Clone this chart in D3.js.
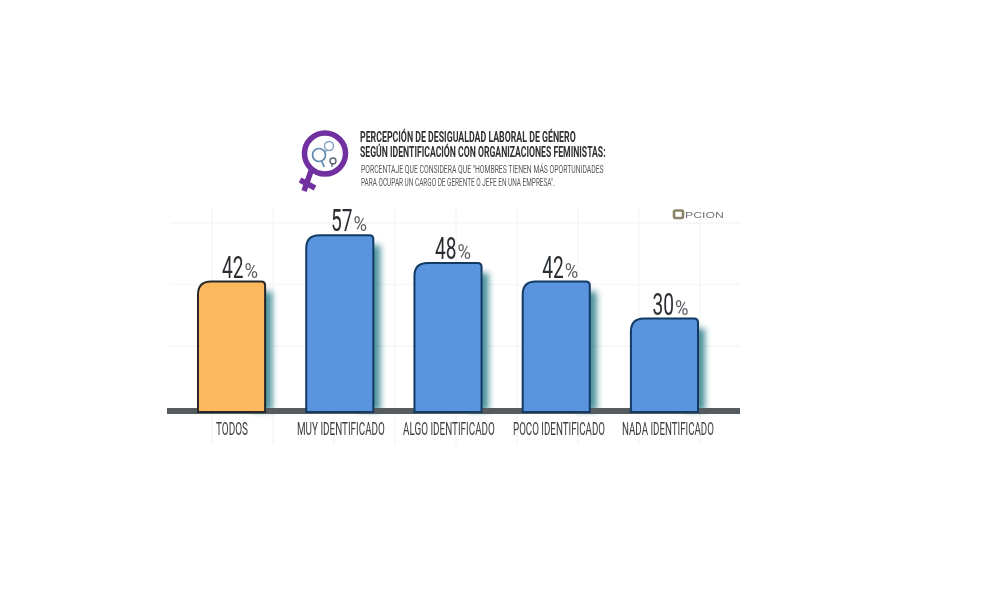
<!DOCTYPE html>
<html><head><meta charset="utf-8">
<script src="https://cdn.jsdelivr.net/npm/d3@7"></script>
<style>
html,body{margin:0;padding:0;background:#fff}
svg{display:block}
text{font-family:"Roboto",sans-serif}
</style></head><body>
<svg id="c" width="1000" height="592"></svg>
<script>
const categories = ["TODOS","MUY IDENTIFICADO","ALGO IDENTIFICADO","POCO IDENTIFICADO","NADA IDENTIFICADO"];
const values = [42,57,48,42,30];
const gridRows = [21,41,61];
const gridCols = [0,1,2,3,4,5,6,7,8];
const titleLines = ["PERCEPCIÓN DE DESIGUALDAD LABORAL DE GÉNERO","SEGÚN IDENTIFICACIÓN CON ORGANIZACIONES FEMINISTAS:"];
const subLines = ["PORCENTAJE QUE CONSIDERA QUE \"HOMBRES TIENEN MÁS OPORTUNIDADES","PARA OCUPAR UN CARGO DE GERENTE O JEFE EN UNA EMPRESA\"."];

const svg = d3.select("#c");
const defs = svg.append("defs");
defs.append("filter").attr("id","shadow").attr("x","-60%").attr("width","220%")
  .append("feGaussianBlur").attr("stdDeviation",3.2);
defs.append("filter").attr("id","soft").append("feGaussianBlur").attr("stdDeviation",0.4);

const base = 411;
const x = d3.scaleBand().domain(categories).range([198,698]).paddingInner(0.38).paddingOuter(0);
const y = d3.scaleLinear().domain([0,60]).range([base,base-185]);
const gx = d3.scaleLinear().domain([0,8]).range([212,700]);

// squeeze each text horizontally to a given width, so it looks condensed
function fit(sel, left, top, width){
  sel.each(function(d,i){
    const t=d3.select(this), w=this.getComputedTextLength();
    t.attr("transform",`translate(${left(d,i)},${top(d,i)}) scale(${width(d,i)/w},1)`);
  });
}

// faint grid
const grid = svg.append("g").attr("stroke","#f5f6f5").attr("stroke-width",1.5);
grid.selectAll(".r").data(gridRows).join("line")
  .attr("x1",170).attr("x2",740).attr("y1",d=>y(d)).attr("y2",d=>y(d));
grid.selectAll(".c").data(gridCols).join("line")
  .attr("x1",d=>gx(d)).attr("x2",d=>gx(d)).attr("y1",208).attr("y2",445);

// shadows
svg.append("g").selectAll("rect").data(values).join("rect")
  .attr("x",(d,i)=>x(categories[i])+x.bandwidth()-14)
  .attr("width",21)
  .attr("y",d=>y(d)+10)
  .attr("height",d=>base-y(d)-10)
  .attr("fill","#1f7482")
  .attr("opacity",.8)
  .attr("filter","url(#shadow)");

// baseline
svg.append("rect").attr("x",167).attr("width",573).attr("y",408).attr("height",6).attr("fill","#565b60");

// bars: large top-left radius, small top-right radius
function barPath(d,i){
  const l=x(categories[i]), r=l+x.bandwidth(), t=y(d), b=base+1;
  const p=d3.path();
  p.moveTo(l,b); p.lineTo(l,t+13);
  p.quadraticCurveTo(l,t,l+13,t);
  p.lineTo(r-4,t);
  p.quadraticCurveTo(r,t,r,t+4);
  p.lineTo(r,b); p.closePath();
  return p.toString();
}
svg.append("g").selectAll("path").data(values).join("path")
  .attr("d",barPath)
  .attr("fill",(d,i)=>i===0?"#fdb85e":"#5a94df")
  .attr("stroke",(d,i)=>i===0?"#26282a":"#123a63")
  .attr("stroke-width",2);

const txt = svg.append("g").attr("filter","url(#soft)");

// value labels
const labelShift=[-9.5,-8.7,-13,-14,-12];
const labelX=i=>x(categories[i])+x.bandwidth()/2+labelShift[i];
txt.append("g").selectAll("text").data(values).join("text")
  .attr("font-size",32).attr("fill","#2b2f33").text(d=>d)
  .call(fit,(d,i)=>labelX(i),d=>y(d)-4,()=>21.5);
txt.append("g").selectAll("text").data(values).join("text")
  .attr("font-size",20).attr("fill","#5a5e62").text("%")
  .call(fit,(d,i)=>labelX(i)+22.5,d=>y(d)-4,()=>13.5);

// category labels
const catCenter=[232,341,449,559,668];
const catWidth=[32,88,92,92,92];
txt.append("g").selectAll("text").data(categories).join("text")
  .attr("font-size",18).attr("fill","#3a3d40").text(d=>d)
  .call(fit,(d,i)=>catCenter[i]-catWidth[i]/2,()=>435,(d,i)=>catWidth[i]);

// title block
txt.append("g").selectAll("text").data(titleLines).join("text")
  .attr("font-size",14).attr("font-weight",700).attr("fill","#2e3033").text(d=>d)
  .call(fit,()=>360,(d,i)=>142+i*15,(d,i)=>i?246:216);
txt.append("g").selectAll("text").data(subLines).join("text")
  .attr("font-size",11).attr("fill","#55585b").text(d=>d)
  .call(fit,()=>361,(d,i)=>173+i*13,(d,i)=>i?194:243);

// venus icon
const ic = svg.append("g").attr("fill","none");
ic.append("path").attr("d","M311 171L304 191M300 180L315 188").attr("stroke","#7030a0").attr("stroke-width",5.5);
ic.append("circle").attr("cx",325).attr("cy",153.5).attr("r",20.5).attr("stroke","#7030a0").attr("stroke-width",5.5).attr("fill","#fff");
function mini(cx,cy,r,c,w,tx,ty){
  ic.append("circle").attr("cx",cx).attr("cy",cy).attr("r",r).attr("stroke",c).attr("stroke-width",w);
  ic.append("path").attr("d",`M${cx+tx*r} ${cy+ty*r}L${cx+tx*r*2} ${cy+ty*r*2}`).attr("stroke",c).attr("stroke-width",w);
}
mini(319,155,6.5,"#5f87b0",1.7,.4,.92);
mini(329,146,4.5,"#7ba0c0",1.4,-.5,.87);
mini(333,161,3,"#5a6478",1.4,-.2,.98);

// logo
const logo = svg.append("g").attr("filter","url(#soft)");
logo.append("rect").attr("x",674).attr("y",210.5).attr("width",9).attr("height",7.5).attr("rx",1.5).attr("fill","none").attr("stroke","#8c8468").attr("stroke-width",2.6);
logo.append("text").attr("font-size",9.5).attr("fill","#6f7274").style("font-family","Liberation Sans").text("PCION")
  .call(fit,()=>685,()=>218,()=>39);
</script>
</body></html>
